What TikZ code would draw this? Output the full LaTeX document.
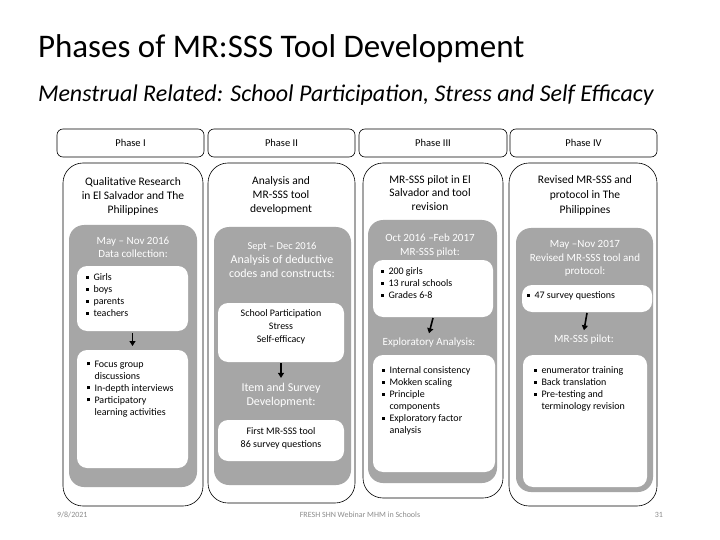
\documentclass[tikz,border=0pt]{standalone}
\usepackage{fontspec}
\setmainfont{Carlito}
\usetikzlibrary{arrows.meta}
\definecolor{boxgray}{HTML}{A6A6A6}
\definecolor{footgray}{HTML}{8C8C8C}
\newcommand\bul{\makebox[7.5pt][l]{\rule[0.45ex]{3pt}{3pt}}}
\newcommand\ind{\hspace*{7.5pt}}
\begin{document}
\begin{tikzpicture}[x=1pt,y=-1pt,
  every node/.style={inner sep=0pt, outer sep=0pt},
  headbox/.style={draw, line width=0.6pt, rounded corners=6pt, anchor=north west, minimum height=28pt, font=\fontsize{10.5}{12}\selectfont},
  mainbox/.style={draw, line width=0.6pt, rounded corners=20pt, anchor=north west},
  graybox/.style={fill=boxgray, rounded corners=15pt, anchor=north west},
  whitebox/.style={fill=white, rounded corners=10pt, anchor=north west},
  ttl/.style={align=center, font=\fontsize{11.5}{14}\selectfont},
  glabel/.style={align=center, text=white, font=\fontsize{11}{13.5}\selectfont},
  blist/.style={align=left, anchor=north west, font=\fontsize{10}{12}\selectfont},
  ctext/.style={align=center, font=\fontsize{10}{13}\selectfont},
  flow/.style={-{Triangle[length=5pt,width=6pt]}, line width=1.6pt},
  foot/.style={text=footgray, font=\fontsize{8}{9}\selectfont}
]
\useasboundingbox (0,0) rectangle (720,540);
\fill[white] (0,0) rectangle (720,540);

% titles
\node[anchor=base west, font=\fontsize{33}{36}\selectfont] (title) at (38,58) {Phases of MR:SSS Tool Development};
\node[anchor=base west, font=\fontsize{24}{28}\selectfont\itshape] (subtitle) at (38,102) {Menstrual Related: School Participation, Stress and Self Efficacy};

% phase headers
\node[headbox, minimum width=147pt] (h1) at (57,129) {Phase I};
\node[headbox, minimum width=147pt] (h2) at (208,129) {Phase II};
\node[headbox, minimum width=148pt] (h3) at (359,129) {Phase III};
\node[headbox, minimum width=147pt] (h4) at (510,129) {Phase IV};

% main boxes
\node[mainbox, minimum width=140pt, minimum height=343pt] (m1) at (63,163) {};
\node[mainbox, minimum width=147pt, minimum height=340pt] (m2) at (208,163) {};
\node[mainbox, minimum width=140pt, minimum height=335pt] (m3) at (363,163) {};
\node[mainbox, minimum width=148pt, minimum height=343pt] (m4) at (509,163) {};

% ---------- Phase I ----------
\node[ttl] (t1) at (133,196) {Qualitative Research\\in El Salvador and The\\Philippines};
\node[graybox, minimum width=128pt, minimum height=262pt] (g1) at (69,225) {};
\node[glabel] (l1a) at (133,247.5) {May -- Nov 2016\\Data collection:};
\node[whitebox, minimum width=111pt, minimum height=65pt] (w11) at (77,266) {};
\node[blist] (b11) at (86,274) {\bul Girls\\\bul boys\\\bul parents\\\bul teachers};
\node[whitebox, minimum width=111pt, minimum height=118pt] (w12) at (77,350) {};
\node[blist] (b12) at (87,361) {\bul Focus group\\\ind discussions\\\bul In-depth interviews\\\bul Participatory\\\ind learning activities};
\draw[flow] ([yshift=-2pt]w11.south) -- ([yshift=4pt]w12.north);

% ---------- Phase II ----------
\node[ttl] (t2) at (281,195) {Analysis and\\MR-SSS tool\\development};
\node[graybox, minimum width=137pt, minimum height=258pt] (g2) at (214,227) {};
\node[align=center, text=white, font=\fontsize{12}{14}\selectfont] (l2a) at (282,260) {{\fontsize{10.5}{14}\selectfont Sept -- Dec 2016}\\Analysis of deductive\\codes and constructs:};
\node[whitebox, minimum width=126pt, minimum height=59pt] (w21) at (218,303) {};
\node[ctext] (c21) at (281,327) {School Participation\\Stress\\Self-efficacy};
\node[glabel, font=\fontsize{12}{14}\selectfont] (l2b) at (281,395) {Item and Survey\\Development:};
\node[whitebox, minimum width=126pt, minimum height=41pt] (w22) at (218,420) {};
\node[ctext] (c22) at (281,438.5) {First MR-SSS tool\\86 survey questions};
\draw[flow] ([yshift=-1pt]w21.south) -- ([yshift=5pt]l2b.north);

% ---------- Phase III ----------
\node[ttl, font=\fontsize{11.5}{13.5}\selectfont] (t3) at (430,193) {MR-SSS pilot in El\\Salvador and tool\\revision};
\node[graybox, minimum width=129pt, minimum height=263pt] (g3) at (368,220) {};
\node[glabel] (l3a) at (430,245.5) {Oct 2016 --Feb 2017\\MR-SSS pilot:};
\node[whitebox, minimum width=120pt, minimum height=57pt] (w31) at (373,260) {};
\node[blist] (b31) at (381,268) {\bul 200 girls\\\bul 13 rural schools\\\bul Grades 6-8};
\node[glabel] (l3b) at (429,343) {Exploratory Analysis:};
\node[whitebox, minimum width=122pt, minimum height=117pt] (w32) at (373,355) {};
\node[blist] (b32) at (382,367) {\bul Internal consistency\\\bul Mokken scaling\\\bul Principle\\\ind components\\\bul Exploratory factor\\\ind analysis};
\draw[flow] ([yshift=-1pt]w31.south) -- ([yshift=5pt]l3b.north);

% ---------- Phase IV ----------
\node[ttl, font=\fontsize{11.5}{15}\selectfont] (t4) at (585,195) {Revised MR-SSS and\\protocol in The\\Philippines};
\node[graybox, minimum width=137pt, minimum height=264pt] (g4) at (516,228) {};
\node[glabel] (l4a) at (585,258.5) {May --Nov 2017\\Revised MR-SSS tool and\\protocol:};
\node[whitebox, minimum width=130pt, minimum height=27pt] (w41) at (522,285) {};
\node[blist] (b41) at (527,292) {\bul 47 survey questions};
\node[glabel] (l4b) at (584,340) {MR-SSS pilot:};
\node[whitebox, minimum width=124pt, minimum height=132pt] (w42) at (523,355) {};
\node[blist] (b42) at (534,367) {\bul enumerator training\\\bul Back translation\\\bul Pre-testing and\\\ind terminology revision};
\draw[flow] ([yshift=-1pt]w41.south) -- ([yshift=5pt]l4b.north);

% footer
\node[foot, anchor=west] (date) at (57,515) {9/8/2021};
\node[foot] (event) at (360,515) {FRESH SHN Webinar MHM in Schools};
\node[foot, anchor=east] (page) at (663,515) {31};
\end{tikzpicture}
\end{document}
